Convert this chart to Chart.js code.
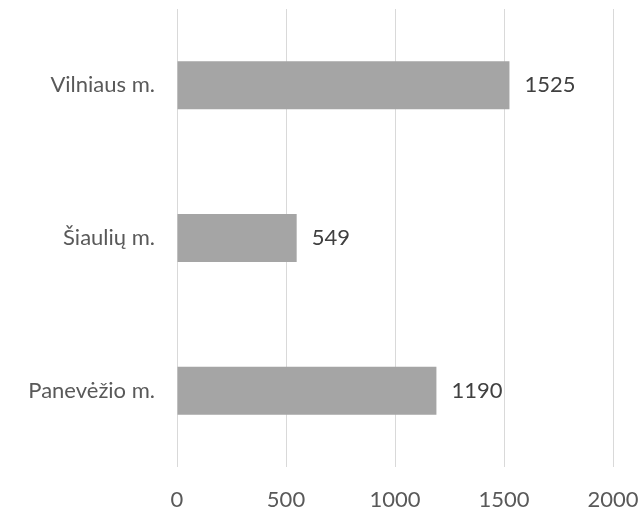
<!DOCTYPE html>
<html>
<head>
<meta charset="utf-8">
<script src="https://cdn.jsdelivr.net/npm/chart.js@4"></script>
<style>
  html, body { margin: 0; padding: 0; background: #fff; }
  #myChart { display: block; }
</style>
</head>
<body>
<canvas id="myChart" width="643" height="507"></canvas>
<script>
const categories = ['Vilniaus m.', 'Šiaulių m.', 'Panevėžio m.'];
const values = [1525, 549, 1190];
const xTicks = [0, 500, 1000, 1500, 2000];

const ctx = document.getElementById('myChart');
const fontFamily = 'Lato, "Open Sans", sans-serif';

// draws the value to the right of each bar
const valueLabels = {
    id: 'valueLabels',
    afterDatasetsDraw(chart) {
        const c = chart.ctx;
        c.save();
        c.font = '22px ' + fontFamily;
        c.fillStyle = '#404040';
        c.textAlign = 'left';
        c.textBaseline = 'middle';
        chart.getDatasetMeta(0).data.forEach(function (bar, i) {
            c.fillText(values[i], bar.x + 15, bar.y);
        });
        c.restore();
    }
};

new Chart(ctx, {
    type: 'bar',
    data: {
        labels: categories,
        datasets: [{
            data: values,
            backgroundColor: '#a5a5a5',
            categoryPercentage: 1,
            barPercentage: 0.314
        }]
    },
    options: {
        indexAxis: 'y',
        responsive: false,
        animation: false,
        layout: { padding: { top: 9, right: 30, left: 0, bottom: 0 } },
        plugins: {
            legend: { display: false },
            tooltip: { enabled: false }
        },
        scales: {
            x: {
                min: xTicks[0],
                max: xTicks[xTicks.length - 1],
                afterBuildTicks: function (axis) {
                    axis.ticks = xTicks.map(function (v) { return { value: v }; });
                },
                afterFit: function (axis) {
                    axis.height = 40;
                    axis.paddingLeft = 0;
                    axis.paddingRight = 0;
                },
                grid: { color: '#d9d9d9', drawTicks: false },
                border: { display: false },
                ticks: {
                    padding: 20,
                    color: '#595959',
                    font: { family: fontFamily, size: 22 },
                    callback: function (v) { return String(v); }
                }
            },
            y: {
                afterFit: function (axis) {
                    axis.width = 177;
                    axis.paddingTop = 0;
                    axis.paddingBottom = 0;
                },
                grid: { display: false, drawTicks: false },
                border: { display: false },
                ticks: {
                    padding: 22,
                    color: '#595959',
                    font: { family: fontFamily, size: 22 }
                }
            }
        }
    },
    plugins: [valueLabels]
});
</script>
</body>
</html>
